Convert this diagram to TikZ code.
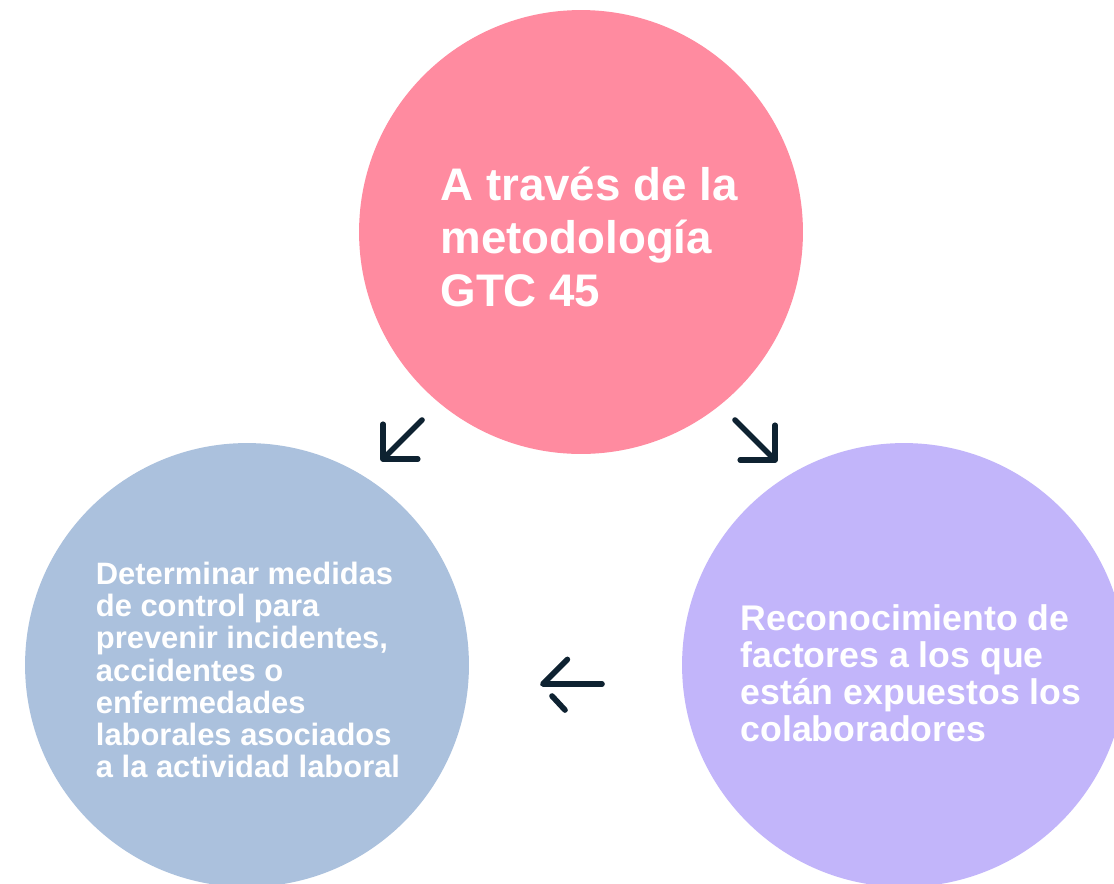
\documentclass[tikz,border=0pt]{standalone}
\usepackage{fontspec}
\setmainfont{Liberation Sans}
\usetikzlibrary{arrows.meta}

\definecolor{rosa}{HTML}{FF8BA0}
\definecolor{azul}{HTML}{ABC1DD}
\definecolor{lila}{HTML}{C2B5FA}
\definecolor{tinta}{HTML}{0E2231}

\tikzset{
  barba/.tip={Straight Barb[length=14pt, width=28pt, line cap=round, line join=round]},
  mediabarba/.tip={Straight Barb[length=14pt, width=28pt, line cap=round, line join=round, right]}
}

\begin{document}
\begin{tikzpicture}[x=0.02cm,y=-0.02cm]
\tikzstyle{bola}=[circle, minimum size=8.88cm, inner sep=0pt]
\tikzstyle{texto}=[text=white, align=left, inner sep=0pt]
\tikzstyle{flecha}=[draw=tinta, line width=3.2pt, line cap=round]

\clip (0,0) rectangle (1114,883);
\fill[white] (0,0) rectangle (1114,883);

    \node[bola, fill=rosa] (gtc) at (581,232) {};
    \node[texto, font=\bfseries\fontsize{26}{30}\selectfont] (t1) at ([shift={(8,5)}]gtc.center)
    {A través de la\\metodología\\GTC 45};

    \node[bola, fill=azul] (medidas) at (247,665) {};
    \node[texto, font=\bfseries\fontsize{17.6}{18.3}\selectfont] (t2) at ([shift={(1,5)}]medidas.center)
    {Determinar medidas\\de control para\\prevenir incidentes,\\accidentes o\\enfermedades\\laborales asociados\\a la actividad laboral};

    \node[bola, fill=lila] (factores) at (904,665) {};
    \node[texto, font=\bfseries\fontsize{20.3}{21}\selectfont] (t3) at ([shift={(7,8)}]factores.center)
    {Reconocimiento de\\factores a los que\\están expuestos los\\colaboradores};

\coordinate (a1) at (422,420);
\coordinate (b1) at (381,461);
\coordinate (a2) at (735,420);
\coordinate (b2) at (777,462);
\coordinate (a3) at (602,684);
\coordinate (b3) at (540,684);
\coordinate (c3) at (552,696);
\coordinate (d3) at (565,710);

\draw[flecha, -{barba}] (a1) -- (b1);
\draw[flecha, -{barba}] (a2) -- (b2);
\draw[flecha, -{mediabarba}] (a3) -- (b3);
\draw[flecha] (c3) -- (d3);
\end{tikzpicture}
\end{document}
